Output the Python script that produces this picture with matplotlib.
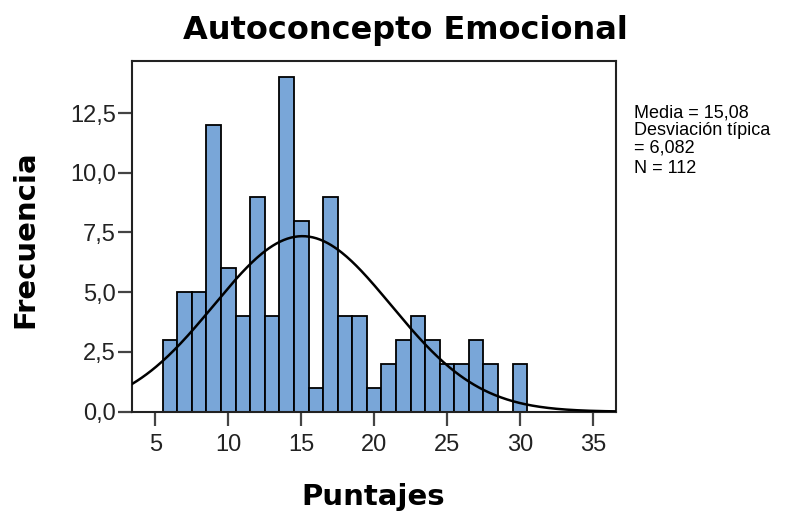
import numpy as np
import matplotlib
matplotlib.use("Agg")
import matplotlib.pyplot as plt
from matplotlib.ticker import FuncFormatter

# Distribución de puntajes (valor entero -> frecuencia)
puntajes = [6, 7, 8, 9, 10, 11, 12, 13, 14, 15, 16, 17, 18, 19, 20,
            21, 22, 23, 24, 25, 26, 27, 28, 29, 30]
frecuencias = [3, 5, 5, 12, 6, 4, 9, 4, 14, 8, 1, 9, 4, 4, 1,
               2, 3, 4, 3, 2, 2, 3, 2, 0, 2]

media = 15.08
desv = 6.082
n_total = 112
ancho_bin = 1.0

x_ticks = [5, 10, 15, 20, 25, 30, 35]
y_ticks = [0.0, 2.5, 5.0, 7.5, 10.0, 12.5]

W, H = 806, 518
fig = plt.figure(figsize=(W / 100, H / 100), dpi=100)
ax = fig.add_axes([132 / W, 1 - 411.7 / H, (616 - 132) / W, (411.7 - 60.7) / H])

# Histograma
ax.bar(puntajes, frecuencias, width=ancho_bin, color="#79a6d8",
       edgecolor="black", linewidth=1.3, zorder=2)

ax.set_xlim(3.39, 36.59)
ax.set_ylim(0, 14.69)

# Curva normal ajustada
xs = np.linspace(3.39, 36.59, 400)
ys = n_total * ancho_bin * np.exp(-0.5 * ((xs - media) / desv) ** 2) / (desv * np.sqrt(2 * np.pi))
ax.plot(xs, ys, color="black", linewidth=1.8, zorder=3)

ax.set_xticks(x_ticks)
ax.set_yticks(y_ticks)
ax.yaxis.set_major_formatter(FuncFormatter(lambda v, p: f"{v:.1f}".replace(".", ",")))
ax.tick_params(axis="both", direction="out", length=10, width=1.6, color="#444444",
               labelsize=17, labelcolor="#222222")
ax.tick_params(axis="x", pad=6)
ax.tick_params(axis="y", pad=1.5)
for lab in ax.get_xticklabels() + ax.get_yticklabels():
    lab.set_family("Liberation Sans")
for sp in ax.spines.values():
    sp.set_linewidth(1.5)
    sp.set_color("#222222")

# Títulos
fig.text(405 / W, 1 - 39.3 / H, "Autoconcepto Emocional", ha="center", va="baseline",
         fontsize=23, fontweight="bold", family="DejaVu Sans")
fig.text(373 / W, 1 - 505 / H, "Puntajes", ha="center", va="baseline",
         fontsize=21, fontweight="bold", family="DejaVu Sans")
fig.text(25 / W, 1 - 239 / H, "Frecuencia", ha="center", va="center", rotation=90,
         fontsize=21, fontweight="bold", family="DejaVu Sans")

# Estadísticos
lineas = [f"Media = {media:.2f}".replace(".", ","),
          "Desviación típica",
          f"= {desv:.3f}".replace(".", ","),
          f"N = {n_total}"]
bases = [118, 135, 152, 173]
for txt, yb in zip(lineas, bases):
    fig.text(634 / W, 1 - yb / H, txt, ha="left", va="baseline",
             fontsize=13, family="Liberation Sans", color="black")

fig.savefig("out.png", dpi=100, facecolor="white")
